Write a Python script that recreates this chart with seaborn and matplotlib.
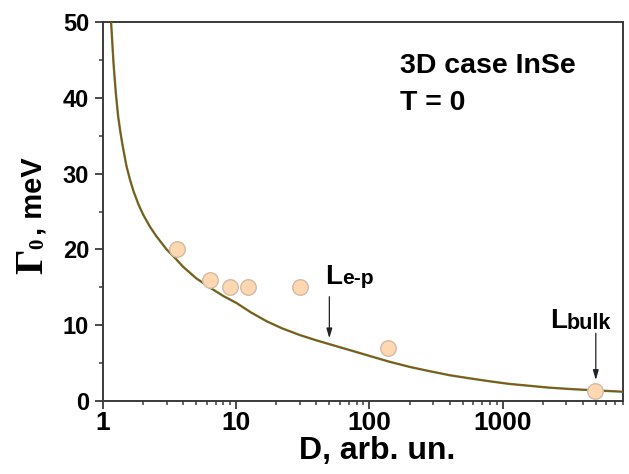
import matplotlib
matplotlib.use("Agg")
import matplotlib.pyplot as plt
from matplotlib.ticker import FixedLocator, LogLocator, MultipleLocator, NullFormatter
import pandas as pd
import seaborn as sns

# Measured broadening Gamma_0 (meV) versus size D (arb. units)
size_D = [3.6, 6.35, 9.0, 12.3, 30.0, 137.0, 4950.0]
gamma_meas = [20.0, 16.0, 15.0, 15.0, 15.0, 7.0, 1.3]

# Theoretical curve, T = 0
curve_D = [1.12, 1.15, 1.2, 1.25, 1.3, 1.35, 1.4, 1.5, 1.6, 1.7, 1.85, 2.0,
           2.25, 2.5, 3.0, 3.5, 4.0, 5.0, 6.3, 8.0, 10.0, 13.0, 17.0, 22.0,
           30.0, 40.0, 50.0, 70.0, 100.0, 140.0, 200.0, 280.0, 400.0, 560.0,
           800.0, 1100.0, 1600.0, 2200.0, 3200.0, 4500.0, 6000.0, 8000.0]
curve_gamma = [55.0, 50.0, 44.5, 40.5, 37.5, 35.5, 33.8, 31.0, 29.1, 27.6,
               25.9, 24.6, 23.0, 21.8, 20.0, 18.8, 17.7, 16.2, 15.0, 13.85,
               12.95, 11.65, 10.5, 9.6, 8.7, 8.0, 7.5, 6.75, 5.95, 5.2, 4.5,
               3.95, 3.4, 3.0, 2.6, 2.27, 2.0, 1.77, 1.58, 1.44, 1.33, 1.22]

x_ticks = [1, 10, 100, 1000]
x_tick_labels = ["1", "10", "100", "1000"]
y_ticks = [0, 10, 20, 30, 40, 50]

sns.set_style("ticks")
plt.rcParams["font.family"] = ["Liberation Sans", "DejaVu Sans"]
plt.rcParams["font.weight"] = "bold"
plt.rcParams["axes.labelweight"] = "bold"
plt.rcParams["text.color"] = "black"
plt.rcParams["axes.labelcolor"] = "black"
plt.rcParams["xtick.labelcolor"] = "black"
plt.rcParams["ytick.labelcolor"] = "black"

W, H = 629, 474
fig = plt.figure(figsize=(W / 100, H / 100), dpi=100)
ax = fig.add_axes([103 / W, 1 - 401 / H, 520 / W, 379 / H])

curve = pd.DataFrame({"D": curve_D, "G": curve_gamma})
meas = pd.DataFrame({"D": size_D, "G": gamma_meas})

sns.lineplot(data=curve, x="D", y="G", ax=ax, color="#2f9a2f", lw=1.7,
             sort=False, zorder=3)
sns.lineplot(data=curve, x="D", y="G", ax=ax, color="#c2321c", lw=0.8,
             sort=False, zorder=4)
sns.scatterplot(data=meas, x="D", y="G", ax=ax, s=125, color="#FFD8B2",
                edgecolor="#D2BBA5", linewidth=1.0, zorder=5)

ax.set_xscale("log")
ax.set_xlim(1, 8000)
ax.set_ylim(0, 50)

ax.xaxis.set_major_locator(FixedLocator(x_ticks))
ax.set_xticklabels(x_tick_labels)
ax.xaxis.set_minor_locator(LogLocator(base=10, subs=range(2, 10), numticks=20))
ax.xaxis.set_minor_formatter(NullFormatter())
ax.yaxis.set_major_locator(FixedLocator(y_ticks))
ax.yaxis.set_minor_locator(MultipleLocator(5))

for s in ax.spines.values():
    s.set_color("#3a3a3a")
    s.set_linewidth(1.4)

ax.tick_params(which="major", direction="out", length=5.5, width=1.3,
               color="#3a3a3a", top=False, right=False)
ax.tick_params(which="minor", direction="out", length=3.2, width=1.1,
               color="#3a3a3a", top=False, right=False)
ax.tick_params(axis="x", which="major", pad=1.5, labelsize=19)
ax.tick_params(axis="y", which="major", pad=4.5, labelsize=17)
for lab in ax.get_xticklabels() + ax.get_yticklabels():
    lab.set_fontweight("bold")

ax.set_xlabel("D, arb. un.", fontsize=23, fontweight="bold")
ax.xaxis.set_label_coords(0.527, -0.093)
ax.set_ylabel("")

# y-axis label: serif Gamma with subscript 0, then ", meV"
serif = ["Liberation Serif", "DejaVu Serif"]
fig.text(42 / W, 1 - 274 / H, "\u0393", rotation=90, rotation_mode="anchor",
         ha="left", va="baseline", fontsize=29, fontweight="bold", family=serif)
fig.text(43 / W, 1 - 249.5 / H, "0", rotation=90, rotation_mode="anchor",
         ha="left", va="baseline", fontsize=15, fontweight="bold", family=serif)
fig.text(42 / W, 1 - 235 / H, ", meV", rotation=90, rotation_mode="anchor",
         ha="left", va="baseline", fontsize=21, fontweight="bold")

# in-plot captions
ax.text((400 - 103) / 520, (401 - 72.7) / 379, "3D case InSe",
        transform=ax.transAxes, fontsize=20.5, fontweight="bold",
        ha="left", va="baseline")
ax.text((400 - 103) / 520, (401 - 110) / 379, "T = 0",
        transform=ax.transAxes, fontsize=20.5, fontweight="bold",
        ha="left", va="baseline")

# length-scale markers
ax.text((325 - 103) / 520, (401 - 283.5) / 379, "L", transform=ax.transAxes,
        fontsize=20, fontweight="bold", ha="left", va="baseline")
ax.text((342 - 103) / 520, (401 - 284.5) / 379, "e-p", transform=ax.transAxes,
        fontsize=15, fontweight="bold", ha="left", va="baseline")
ax.text((550 - 103) / 520, (401 - 328.5) / 379, "L", transform=ax.transAxes,
        fontsize=20, fontweight="bold", ha="left", va="baseline")
ax.text((567 - 103) / 520, (401 - 329) / 379, "bulk", transform=ax.transAxes,
        fontsize=15.5, fontweight="bold", ha="left", va="baseline")

arrow = dict(arrowstyle="-|>,head_length=0.58,head_width=0.17",
             color="#222222", lw=0.9, shrinkA=0, shrinkB=0)
ax.annotate("", xy=(50, 8.27), xytext=(50, 13.76), arrowprops=arrow)
ax.annotate("", xy=(5000, 2.77), xytext=(5000, 8.93), arrowprops=arrow)

fig.savefig("out.png", dpi=100)
